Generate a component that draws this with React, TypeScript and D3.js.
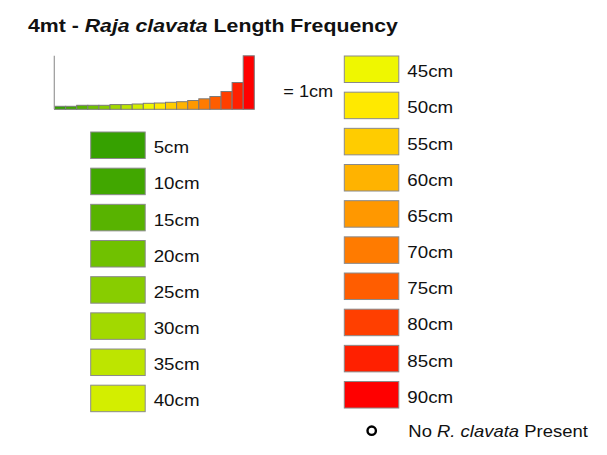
import React from "react";
import * as d3 from "d3";

// length classes (cm) and their legend colours
const lengthClasses = [5, 10, 15, 20, 25, 30, 35, 40, 45, 50, 55, 60, 65, 70, 75, 80, 85, 90];
const classColors = [
  "#36a100", "#41a700", "#58b300", "#70c100", "#88cd00", "#a2d900", "#bde500", "#d3ee00",
  "#eff700", "#ffe900", "#ffcc00", "#ffb300", "#ff9800", "#ff7b00", "#ff5d00", "#ff3f00",
  "#ff2000", "#ff0000",
];
// relative frequency of each class in the mini histogram
const frequencies = [3, 3, 4, 4, 4, 4.7, 4.7, 5.3, 6, 6.3, 7, 7.6, 8.8, 10.5, 12.8, 17.8, 26.8, 53.5];

const leftClasses = lengthClasses.slice(0, 8);
const rightClasses = lengthClasses.slice(8);

const FONT = "'Liberation Sans', Arial, Helvetica, sans-serif";

export default function App() {
  const width = 607;
  const height = 455;

  // mini histogram
  const histX = d3
    .scaleBand<number>()
    .domain(lengthClasses)
    .range([54.5, 254.3])
    .padding(0);
  const histY = d3
    .scaleLinear()
    .domain([0, d3.max(frequencies) as number])
    .range([109.3, 55.8]);

  const color = d3.scaleOrdinal<number, string>().domain(lengthClasses).range(classColors);

  // legend rows
  const rowStep = 36.17;
  const leftY = d3
    .scaleLinear()
    .domain([0, 1])
    .range([132, 132 + rowStep]);
  const rightY = d3
    .scaleLinear()
    .domain([0, 1])
    .range([56, 56 + rowStep]);

  const swW = 54.5;
  const swH = 26.5;

  const label = (x: number, y: number, txt: React.ReactNode, size = 17.2, sx = 1.09) => (
    <text
      transform={`translate(${x},${y}) scale(${sx},1)`}
      fontFamily={FONT}
      fontSize={size}
      fill="#111"
    >
      {txt}
    </text>
  );

  const legendRow = (cls: number, x: number, y: number) => (
    <g key={cls}>
      <rect
        x={x}
        y={y}
        width={swW}
        height={swH}
        fill={color(cls)}
        stroke="#8a8a8a"
        strokeWidth={1}
      />
      {label(x + 63, y + 21.3, `${cls}cm`)}
    </g>
  );

  return (
    <svg
      width={width}
      height={height}
      style={{ position: "absolute", left: 0, top: 0, background: "#fff" }}
    >
      <rect width={width} height={height} fill="#fff" />
      {/* title */}
      <text
        transform="translate(28,31.7) scale(1.12,1)"
        fontFamily={FONT}
        fontSize={19}
        fontWeight="bold"
        fill="#111"
      >
        4mt - <tspan fontStyle="italic">Raja clavata</tspan> Length Frequency
      </text>

      {/* mini histogram */}
      <g>
        {lengthClasses.map((c, i) => (
          <rect
            key={c}
            x={histX(c)}
            y={histY(frequencies[i])}
            width={histX.bandwidth()}
            height={histY(0) - histY(frequencies[i])}
            fill={color(c)}
            stroke="#7a7a7a"
            strokeWidth={1}
          />
        ))}
        <line
          x1={54.3}
          x2={54.3}
          y1={histY.range()[1]}
          y2={histY(0)}
          stroke="#999"
          strokeWidth={1.2}
        />
      </g>
      {label(283.3, 96.7, "= 1cm", 16.5, 1.1)}

      {/* legend */}
      {leftClasses.map((c, i) => legendRow(c, 90.7, leftY(i)))}
      {rightClasses.map((c, i) => legendRow(c, 344.3, rightY(i)))}

      {/* absence marker */}
      <circle cx={371.7} cy={430.7} r={4.2} fill="#fff" stroke="#000" strokeWidth={2.4} />
      {label(
        408.3,
        436.7,
        <>
          No <tspan fontStyle="italic">R. clavata</tspan> Present
        </>,
        16.5,
        1.12
      )}
    </svg>
  );
}
